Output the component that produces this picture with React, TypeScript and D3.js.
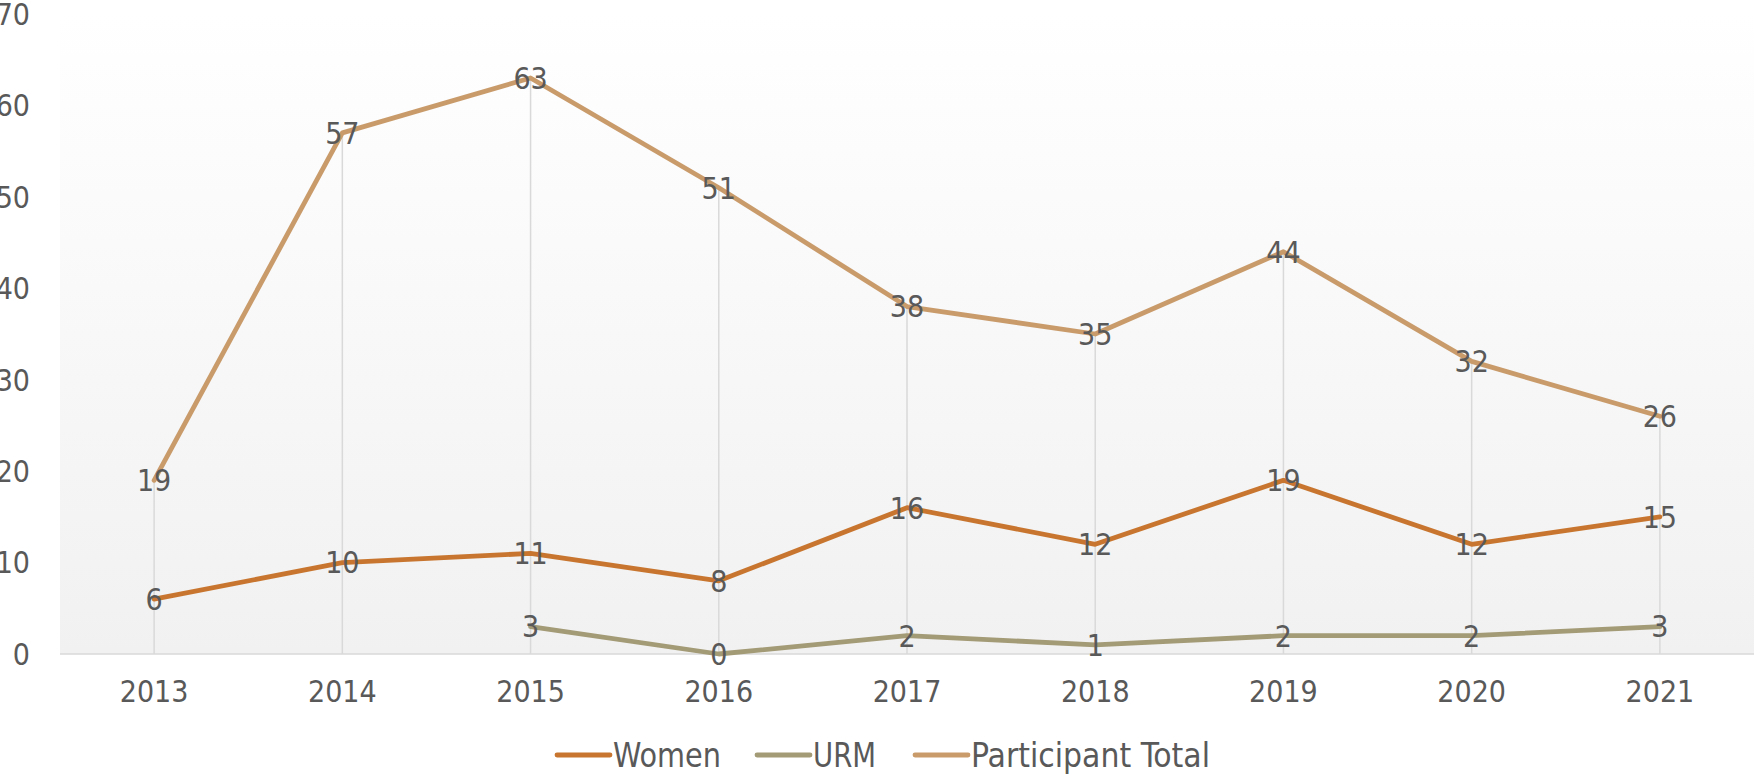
import React from "react";
import * as d3 from "d3";

const years = ["2013", "2014", "2015", "2016", "2017", "2018", "2019", "2020", "2021"];
const women = [6, 10, 11, 8, 16, 12, 19, 12, 15];
const urm: (number | null)[] = [null, null, 3, 0, 2, 1, 2, 2, 3];
const total = [19, 57, 63, 51, 38, 35, 44, 32, 26];
const yTicks = [0, 10, 20, 30, 40, 50, 60, 70];

const series = [
  { name: "Women", values: women, color: "#c8762f" },
  { name: "URM", values: urm, color: "#a39a76" },
  { name: "Participant Total", values: total, color: "#c99b6b" },
];

const W = 1754;
const H = 775;
const FONT = "'DejaVu Sans Condensed', 'Liberation Sans Narrow', Roboto, sans-serif";
const TXT = "#595959";

export default function App() {
  // plot area
  const left = 60;
  const right = 1754;
  const x = d3.scaleBand().domain(years).range([left, right]);
  const y = d3.scaleLinear().domain([0, 70]).range([654, 14]);
  const cx = (yr: string) => (x(yr) as number) + x.bandwidth() / 2;

  const lineGen = d3
    .line<number | null>()
    .defined((d) => d != null)
    .x((_, i) => cx(years[i]))
    .y((d) => y(d as number));

  const maxAt = years.map((_, i) =>
    d3.max(series, (s) => (s.values[i] == null ? -Infinity : (s.values[i] as number))) as number
  );

  // legend layout (line start, text width)
  const legendItems = [
    { ...series[0], x: 557, w: 108 },
    { ...series[1], x: 757, w: 63 },
    { ...series[2], x: 915, w: 239 },
  ];

  return (
    <svg width={W} height={H} style={{ position: "absolute", left: 0, top: 0 }} fontFamily={FONT}>
      <defs>
        <linearGradient id="bg" x1="0" x2="0" y1="0" y2="1">
          <stop offset="0%" stopColor="#ffffff" />
          <stop offset="100%" stopColor="#f1f1f1" />
        </linearGradient>
      </defs>
      <rect x={left} y={y(70)} width={right - left} height={y(0) - y(70)} fill="url(#bg)" />

      {/* drop lines */}
      {years.map((yr, i) => (
        <line
          key={yr}
          x1={cx(yr)}
          x2={cx(yr)}
          y1={y(maxAt[i])}
          y2={y(0)}
          stroke="#d9d9d9"
          strokeWidth={1.5}
        />
      ))}

      {/* x axis */}
      <line x1={left} x2={right} y1={y(0)} y2={y(0)} stroke="#d9d9d9" strokeWidth={1.5} />
      {years.map((yr) => (
        <text key={yr} x={cx(yr)} y={y(0) + 48} textAnchor="middle" fontSize={30} fill={TXT}>
          {yr}
        </text>
      ))}

      {/* y labels */}
      {yTicks.map((t) => (
        <text key={t} x={30} y={y(t)} dy="0.36em" textAnchor="end" fontSize={30} fill={TXT}>
          {t}
        </text>
      ))}

      {/* lines */}
      {series.map((s) => (
        <path
          key={s.name}
          d={lineGen(s.values) || ""}
          fill="none"
          stroke={s.color}
          strokeWidth={4.8}
          strokeLinejoin="round"
          strokeLinecap="round"
        />
      ))}

      {/* data labels */}
      {series.map((s) =>
        s.values.map((v, i) =>
          v == null ? null : (
            <text
              key={s.name + i}
              x={cx(years[i])}
              y={y(v)}
              dy="0.36em"
              textAnchor="middle"
              fontSize={30}
              fill={TXT}
            >
              {v}
            </text>
          )
        )
      )}

      {/* legend */}
      {legendItems.map((it) => (
        <g key={it.name}>
          <line x1={it.x} x2={it.x + 53} y1={755} y2={755} stroke={it.color} strokeWidth={4.8} strokeLinecap="round" />
          <text
            x={it.x + 56}
            y={755}
            dy="0.36em"
            fontSize={33}
            fill={TXT}
            textLength={it.w}
            lengthAdjust="spacingAndGlyphs"
          >
            {it.name}
          </text>
        </g>
      ))}
    </svg>
  );
}
